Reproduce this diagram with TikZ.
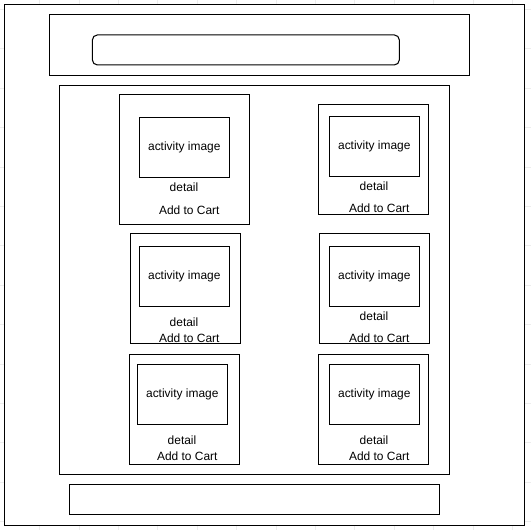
\documentclass[tikz,border=0pt]{standalone}
\usepackage{fontspec}
\setmainfont{Liberation Sans}
\usetikzlibrary{positioning}

\begin{document}
\begin{tikzpicture}[
  x=0.02cm,y=-0.02cm,
  font=\fontsize{6.8}{8}\selectfont,
  frame/.style={draw,line width=0.6pt,inner sep=0pt},
  card/.style={frame,minimum width=2.2cm,minimum height=2.2cm},
  photo/.style={frame,minimum width=1.8cm,minimum height=1.2cm},
  lbl/.style={inner sep=0pt}
]
\useasboundingbox (0,0) rectangle (531,530);
% faint page grid behind the mockup
\foreach \gx in {39.4,78.8,...,530} \draw[gray!14,line width=0.3pt] (\gx,0) -- (\gx,530);
\foreach \gy in {9.2,48.6,...,530} \draw[gray!14,line width=0.3pt] (0,\gy) -- (531,\gy);

\node[frame,fill=white,minimum width=10.41cm,minimum height=10.41cm] (page) at (264.7,264.85) {};
\node[frame,minimum width=8.4cm,minimum height=1.21cm] (header) at (259.4,44.9) {};
\node[frame,rounded corners=0.1cm,minimum width=6.14cm,minimum height=0.6cm] (search) at (245.85,49.95) {};
\node[frame,minimum width=7.8cm,minimum height=7.78cm] (content) at (254.35,280.15) {};
\node[frame,minimum width=7.4cm,minimum height=0.6cm] (footer) at (254.3,499.8) {};

% row 1
\node[card,minimum width=2.6cm,minimum height=2.6cm] (card1) at (184.3,159.3) {};
\node[photo] (img1) at (184.3,147.3) {activity image};
\node[lbl] (det1) at (184,187.5) {detail};
\node[lbl] (cart1) at (189.3,210) {Add to Cart};

\node[card] (card2) at (373.3,159.3) {};
\node[photo] (img2) at (374.3,146.3) {activity image};
\node[lbl] (det2) at (374,186.5) {detail};
\node[lbl] (cart2) at (379.3,208.5) {Add to Cart};

% row 2
\node[card] (card3) at (185.2,288.3) {};
\node[photo] (img3) at (184.3,276.3) {activity image};
\node[lbl] (det3) at (184,322.5) {detail};
\node[lbl] (cart3) at (189.3,338.5) {Add to Cart};

\node[card] (card4) at (374.3,288.3) {};
\node[photo] (img4) at (374.3,276.3) {activity image};
\node[lbl] (det4) at (374,316.5) {detail};
\node[lbl] (cart4) at (379.3,338.5) {Add to Cart};

% row 3
\node[card] (card5) at (184.3,409.3) {};
\node[photo] (img5) at (182.3,394.3) {activity image};
\node[lbl] (det5) at (182,440.5) {detail};
\node[lbl] (cart5) at (187.3,456.5) {Add to Cart};

\node[card] (card6) at (373.3,409.3) {};
\node[photo] (img6) at (374.3,394.3) {activity image};
\node[lbl] (det6) at (374,440.5) {detail};
\node[lbl] (cart6) at (379.3,456.5) {Add to Cart};
\end{tikzpicture}
\end{document}
